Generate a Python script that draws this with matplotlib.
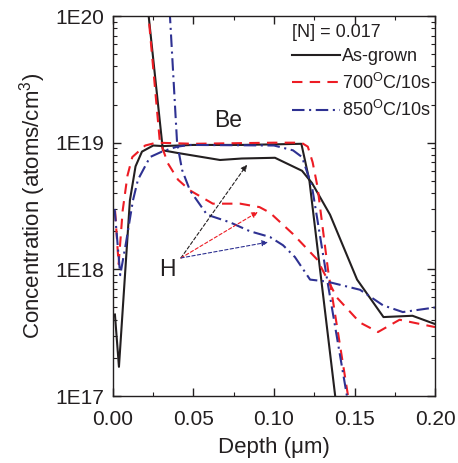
import numpy as np
import matplotlib
matplotlib.use("Agg")
import matplotlib.pyplot as plt
from matplotlib.ticker import LogLocator, NullFormatter, MultipleLocator

plt.rcParams['font.family'] = ['Liberation Sans', 'DejaVu Sans']
plt.rcParams['mathtext.fontset'] = 'custom'
plt.rcParams['mathtext.rm'] = 'Liberation Sans'
plt.rcParams['mathtext.it'] = 'Liberation Sans:italic'
plt.rcParams['mathtext.bf'] = 'Liberation Sans:bold'

# --- data (depth in um, conc in atoms/cm3) ---
# Be profiles
be_asgrown_x = [0.0012, 0.0037, 0.0075, 0.0105, 0.014, 0.018, 0.025, 0.031, 0.05, 0.08, 0.10, 0.117, 0.122, 0.138]
be_asgrown_y = [4.4e17, 1.7e17, 9.2e17, 3.5e18, 6.5e18, 8.5e18, 9.5e18, 9.4e18, 9.6e18, 9.6e18, 9.7e18, 9.8e18, 5.0e18, 1.0e17]

be_700_x = [0.0013, 0.0035, 0.006, 0.009, 0.012, 0.02, 0.027, 0.05, 0.10, 0.117, 0.121, 0.124, 0.127, 0.1335, 0.146]
be_700_y = [2.9e18, 1.1e18, 2.9e18, 5.5e18, 7.7e18, 9.5e18, 1.0e19, 9.8e18, 1.0e19, 1.0e19, 9.3e18, 7.0e18, 4.5e18, 1.0e18, 1.0e17]

be_850_x = [0.001, 0.0045, 0.008, 0.0124, 0.0155, 0.023, 0.0304, 0.0398, 0.0478, 0.10, 0.1118, 0.1174, 0.1236, 0.133, 0.1453]
be_850_y = [3.0e18, 9.0e17, 1.6e18, 3.5e18, 5.1e18, 7.7e18, 8.5e18, 9.3e18, 9.6e18, 9.5e18, 8.7e18, 7.7e18, 4.5e18, 8.3e17, 1.0e17]

# H profiles
h_asgrown_x = [0.0215, 0.031, 0.04, 0.0665, 0.08, 0.1006, 0.1174, 0.1236, 0.1348, 0.1516, 0.168, 0.186, 0.20]
h_asgrown_y = [1.2e20, 8.7e18, 8.3e18, 7.3e18, 7.5e18, 7.6e18, 6.0e18, 4.8e18, 2.7e18, 8.3e17, 4.2e17, 4.3e17, 3.7e17]

h_700_x = [0.0215, 0.029, 0.034, 0.0404, 0.0478, 0.062, 0.079, 0.091, 0.0975, 0.1118, 0.1267, 0.139, 0.1534, 0.1646, 0.178, 0.20]
h_700_y = [1.2e20, 1.05e19, 6.9e18, 5.1e18, 4.2e18, 3.3e18, 3.3e18, 3.1e18, 2.8e18, 1.9e18, 1.2e18, 6.0e17, 3.8e17, 3.2e17, 4.0e17, 3.5e17]

h_850_x = [0.0352, 0.0398, 0.0429, 0.0478, 0.0584, 0.0727, 0.085, 0.0975, 0.1056, 0.113, 0.1224, 0.133, 0.1534, 0.1677, 0.18, 0.20]
h_850_y = [1.1e20, 1.0e19, 6.1e18, 4.2e18, 2.7e18, 2.35e18, 2.0e18, 1.8e18, 1.55e18, 1.25e18, 8.3e17, 8.0e17, 6.9e17, 5.2e17, 4.6e17, 5.0e17]

labels = ['As-grown', r'700$^{\mathrm{O}}$C/10s', r'850$^{\mathrm{O}}$C/10s']
legend_title = '[N] = 0.017'

# arrows from the "H" label to the H profiles
arrow_tail = (0.0422, 1.23e18)
arrow_heads = [(0.0832, 6.7e18), (0.090, 2.84e18), (0.0963, 1.64e18)]

ytick_vals = [1e17, 1e18, 1e19, 1e20]
ytick_labels = ['1E17', '1E18', '1E19', '1E20']

# --- styling ---
black = '#231f20'
red = '#ed1c24'
blue = '#2e3192'
colors = [black, red, blue]
dash_styles = ['-', (0, (5, 3.5)), (0, (6, 2.2, 1, 2.2))]
lw = 1.5

fig = plt.figure(figsize=(4.58, 4.63), dpi=100)
ax = fig.add_axes([0.2467, 0.1447, 0.7031, 0.8207])

be_sets = [(be_asgrown_x, be_asgrown_y), (be_700_x, be_700_y), (be_850_x, be_850_y)]
h_sets = [(h_asgrown_x, h_asgrown_y), (h_700_x, h_700_y), (h_850_x, h_850_y)]

handles = []
for (bx, by), (hx, hy), c, ls, lab in zip(be_sets, h_sets, colors, dash_styles, labels):
    ln, = ax.plot(bx, by, color=c, linestyle=ls, lw=lw, label=lab)
    ax.plot(hx, hy, color=c, linestyle=ls, lw=lw)
    handles.append(ln)

ax.set_yscale('log')
ax.set_xlim(0, 0.2)
ax.set_ylim(1e17, 1e20)

ax.xaxis.set_major_locator(MultipleLocator(0.05))
ax.xaxis.set_minor_locator(MultipleLocator(0.025))
ax.set_xticks([0.0, 0.05, 0.10, 0.15, 0.20], labels=['0.00', '0.05', '0.10', '0.15', '0.20'])
ax.set_yticks(ytick_vals, labels=ytick_labels)
ax.yaxis.set_minor_locator(LogLocator(base=10, subs=np.arange(2, 10), numticks=20))
ax.yaxis.set_minor_formatter(NullFormatter())

ax.tick_params(which='both', direction='in', top=True, right=True, colors=black, labelsize=15)
ax.tick_params(which='major', length=6, width=1)
ax.tick_params(which='minor', length=3, width=0.8)
ax.tick_params(axis='x', which='major', pad=10)
ax.tick_params(axis='y', which='major', pad=6.5)
for sp in ax.spines.values():
    sp.set_linewidth(1)
    sp.set_color(black)

ax.set_xlabel('Depth (μm)', fontsize=16, color=black, labelpad=6)
ax.set_ylabel(r'Concentration (atoms/cm$^3$)', fontsize=16, color=black, labelpad=5)

leg = ax.legend(handles=handles, title=legend_title, loc='upper left',
                bbox_to_anchor=(0.556, 0.979), frameon=False, fontsize=13,
                title_fontsize=13, alignment='left', borderpad=0, borderaxespad=0,
                handlelength=2.65, handletextpad=0.1, labelspacing=0.4)
for t in leg.get_texts():
    t.set_color(black)
leg.get_title().set_color(black)

ax.text(0.0714, 1.5e19, 'Be', fontsize=16.5, color=black, ha='center', va='center')
ax.text(0.0335, 1.0e18, 'H', fontsize=16.5, color=black, ha='center', va='center')

for head, c in zip(arrow_heads, colors):
    ax.annotate('', xy=head, xytext=arrow_tail,
                arrowprops=dict(arrowstyle='-|>', color=c, lw=0.8, linestyle=(0, (3, 2)),
                                mutation_scale=9, shrinkA=0, shrinkB=0))

fig.savefig('out.png', dpi=100)
